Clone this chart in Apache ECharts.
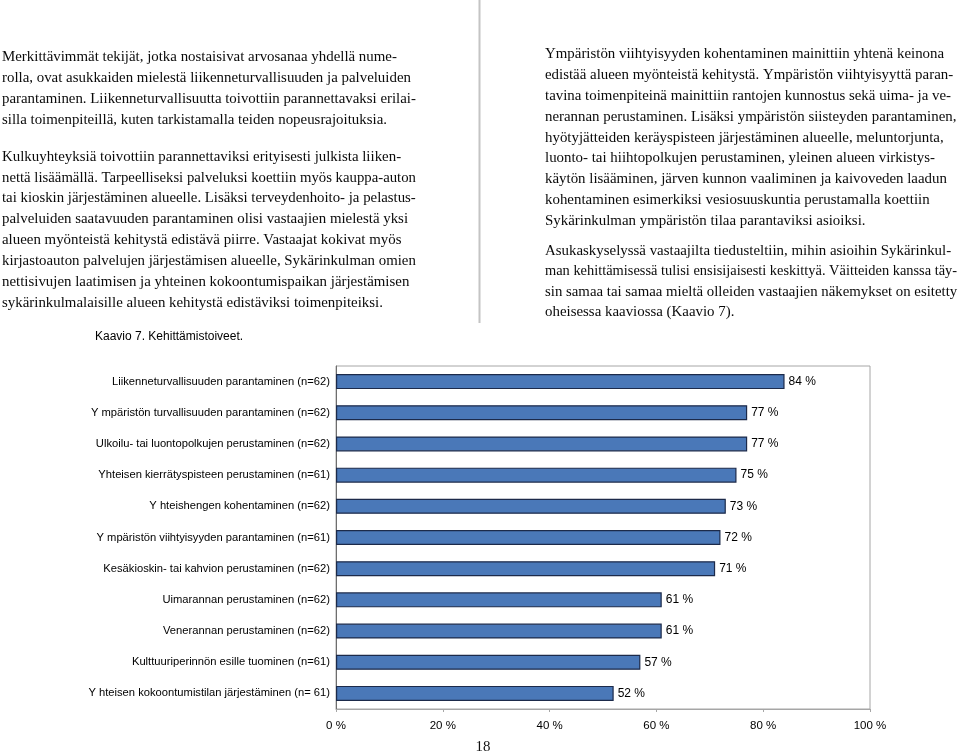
<!DOCTYPE html>
<html>
<head>
<meta charset="utf-8">
<script src="https://cdn.jsdelivr.net/npm/echarts@6/dist/echarts.min.js"></script>
<style>
html,body{margin:0;padding:0;background:#fff;}
#chart{width:960px;height:753px;}
</style>
</head>
<body>
<div id="chart"></div>
<script>
// ---- data ----
var categories = [
  'Liikenneturvallisuuden parantaminen (n=62)',
  'Y mpäristön turvallisuuden parantaminen (n=62)',
  'Ulkoilu- tai luontopolkujen perustaminen (n=62)',
  'Yhteisen kierrätyspisteen perustaminen (n=61)',
  'Y hteishengen kohentaminen (n=62)',
  'Y mpäristön viihtyisyyden parantaminen (n=61)',
  'Kesäkioskin- tai kahvion perustaminen (n=62)',
  'Uimarannan perustaminen (n=62)',
  'Venerannan perustaminen (n=62)',
  'Kulttuuriperinnön esille tuominen (n=61)',
  'Y hteisen kokoontumistilan järjestäminen (n= 61)'
];
var values = [84, 77, 77, 75, 73, 72, 71, 61, 61, 57, 52];
var xTickValues = [0, 20, 40, 60, 80, 100];

var leftPara1 = [
  'Merkittävimmät tekijät, jotka nostaisivat arvosanaa yhdellä nume-',
  'rolla, ovat asukkaiden mielestä liikenneturvallisuuden ja palveluiden',
  'parantaminen. Liikenneturvallisuutta toivottiin parannettavaksi erilai-',
  'silla toimenpiteillä, kuten tarkistamalla teiden nopeusrajoituksia.'
];
var leftPara2 = [
  'Kulkuyhteyksiä toivottiin parannettaviksi erityisesti julkista liiken-',
  'nettä lisäämällä. Tarpeelliseksi palveluksi koettiin myös kauppa-auton',
  'tai kioskin järjestäminen alueelle. Lisäksi terveydenhoito- ja pelastus-',
  'palveluiden saatavuuden parantaminen olisi vastaajien mielestä yksi',
  'alueen myönteistä kehitystä edistävä piirre. Vastaajat kokivat myös',
  'kirjastoauton palvelujen järjestämisen alueelle, Sykärinkulman omien',
  'nettisivujen laatimisen ja yhteinen kokoontumispaikan järjestämisen',
  'sykärinkulmalaisille alueen kehitystä edistäviksi toimenpiteiksi.'
];
var rightPara1 = [
  'Ympäristön viihtyisyyden kohentaminen mainittiin yhtenä keinona',
  'edistää alueen myönteistä kehitystä. Ympäristön viihtyisyyttä paran-',
  'tavina toimenpiteinä mainittiin rantojen kunnostus sekä uima- ja ve-',
  'nerannan perustaminen. Lisäksi ympäristön siisteyden parantaminen,',
  'hyötyjätteiden keräyspisteen järjestäminen alueelle, meluntorjunta,',
  'luonto- tai hiihtopolkujen perustaminen, yleinen alueen virkistys-',
  'käytön lisääminen, järven kunnon vaaliminen ja kaivoveden laadun',
  'kohentaminen esimerkiksi vesiosuuskuntia perustamalla koettiin',
  'Sykärinkulman ympäristön tilaa parantaviksi asioiksi.'
];
var rightPara2 = [
  'Asukaskyselyssä vastaajilta tiedusteltiin, mihin asioihin Sykärinkul-',
  'man kehittämisessä tulisi ensisijaisesti keskittyä. Väitteiden kanssa täy-',
  'sin samaa tai samaa mieltä olleiden vastaajien näkemykset on esitetty',
  'oheisessa kaaviossa (Kaavio 7).'
];
var captionText = 'Kaavio 7. Kehittämistoiveet.';
var pageNumber = '18';

// ---- layout helpers ----
var SERIF_FAMILY = '"Liberation Serif", "DejaVu Serif", serif';
var BASE_SIZE = 14.9;
var SANS = '"Liberation Sans", Arial, sans-serif';
var measureCtx = document.createElement('canvas').getContext('2d');
function fitFont(text, maxW) {
  var size = BASE_SIZE;
  measureCtx.font = size + 'px ' + SERIF_FAMILY;
  var w = measureCtx.measureText(text).width;
  if (w > maxW) size = size * maxW / w;
  return size + 'px ' + SERIF_FAMILY;
}
var graphics = [];
function addLines(lines, x, y0, step, maxW) {
  lines.forEach(function (t, i) {
    graphics.push({
      type: 'text',
      style: { text: t, x: x, y: y0 + i * step, font: fitFont(t, maxW), fill: '#0a0a0a', verticalAlign: 'middle' }
    });
  });
}
addLines(leftPara1, 2, 57.5, 20.9, 414);
addLines(leftPara2, 2, 157, 20.8, 414);
addLines(rightPara1, 545, 54.5, 20.8, 412);
addLines(rightPara2, 545, 251, 20.5, 412);
graphics.push({
  type: 'line',
  shape: { x1: 479.5, y1: 0, x2: 479.5, y2: 323 },
  style: { stroke: '#c4c4c4', lineWidth: 2 }
});
graphics.push({
  type: 'text',
  style: { text: captionText, x: 95, y: 337, font: '12px ' + SANS, fill: '#000', verticalAlign: 'middle' }
});
graphics.push({
  type: 'text',
  style: { text: pageNumber, x: 483, y: 747, font: BASE_SIZE + 'px ' + SERIF_FAMILY, fill: '#111', align: 'center', verticalAlign: 'middle' }
});

var chart = echarts.init(document.getElementById('chart'), null, { renderer: 'canvas' });
chart.setOption({
  animation: false,
  backgroundColor: '#fff',
  graphic: graphics,
  grid: {
    left: 336, right: 90, top: 366, bottom: 44,
    show: true, borderColor: '#a6a6a6', borderWidth: 1, containLabel: false
  },
  xAxis: {
    type: 'value', min: xTickValues[0], max: xTickValues[xTickValues.length - 1], interval: 20,
    axisLine: { show: true, lineStyle: { color: '#a6a6a6' } },
    axisTick: { show: true, length: 3, lineStyle: { color: '#a6a6a6' } },
    splitLine: { show: false },
    axisLabel: { formatter: '{value} %', fontFamily: SANS, fontSize: 11.5, color: '#000', margin: 11 }
  },
  yAxis: {
    type: 'category', inverse: true, data: categories,
    axisLine: { show: true, lineStyle: { color: '#6e6e6e' } },
    axisTick: { show: false },
    axisLabel: { fontFamily: SANS, fontSize: 11.2, color: '#000', margin: 6 }
  },
  series: [{
    type: 'bar',
    data: values,
    barWidth: 15,
    itemStyle: { color: '#4a78b8', borderColor: '#1c2a4a', borderWidth: 1.2 },
    label: {
      show: true, position: 'right', distance: 4, formatter: '{c} %',
      fontFamily: SANS, fontSize: 12, color: '#000'
    }
  }]
});
</script>
</body>
</html>
